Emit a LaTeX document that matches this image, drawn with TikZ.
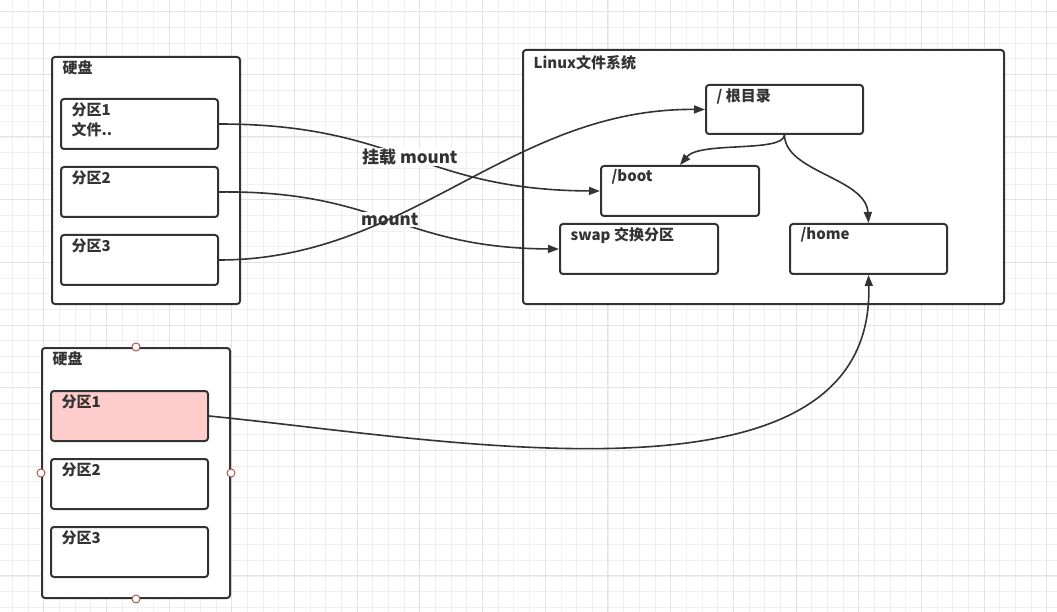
\documentclass[tikz,border=0pt]{standalone}
\usepackage{fontspec}
\setmainfont{Noto Sans CJK SC}
\usetikzlibrary{arrows.meta,positioning}
\definecolor{ink}{HTML}{333333}
\definecolor{pinkf}{HTML}{FFCCCC}
\definecolor{hdl}{HTML}{A05050}
\tikzset{
  minorln/.style={draw=black!6, line width=0.8pt},
  majorln/.style={draw=black!11, line width=1pt},
  frame/.style={draw=ink, line width=2pt, rounded corners=3pt, fill=white, anchor=north west, inner sep=0pt},
  disk/.style={frame, minimum width=188pt, minimum height=248pt},
  part/.style={frame, minimum width=157pt, minimum height=50pt},
  tl/.style={anchor=north west, inner sep=0pt, xshift=11.5pt, yshift=-4.5pt, align=left, text=ink},
  txt/.style={font=\fontsize{15}{20}\selectfont\bfseries},
  fl/.style={-{Triangle[length=11pt,width=8pt]}, line width=1.6pt, draw=ink},
  lbl/.style={font=\fontsize{17}{20}\selectfont\bfseries, fill=white, text=ink, inner sep=1pt},
  handle/.style={circle, draw=hdl, fill=white, line width=0.9pt, minimum size=8pt, inner sep=0pt},
}
\begin{document}
\begin{tikzpicture}[x=1pt, y=-1pt, txt, node distance=16pt]
  \useasboundingbox (0,0) rectangle (1057,612);
  \fill[white] (0,0) rectangle (1057,612);
  % background grid
  \foreach \k in {1,...,68} \draw[minorln] ({-3.4+15.675*\k},0) -- ++(0,612);
  \foreach \k in {1,...,39} \draw[minorln] (0,{-4.07+15.675*\k}) -- ++(1057,0);
  \foreach \k in {0,...,16} \draw[majorln] ({43.6+62.7*\k},0) -- ++(0,612);
  \foreach \k in {0,...,9} \draw[majorln] (0,{11.6+62.7*\k}) -- ++(1057,0);
  % first disk
  \node[disk, minimum height=247pt, label={[tl]north west:硬盘}] (d1) at (51,56) {};
  \node[part, label={[tl]north west:分区1\\文件..}] (p11) at ([shift={(9,42)}]d1.north west) {};
  \node[part, below=of p11.south west, anchor=north west, label={[tl]north west:分区2}] (p12) {};
  \node[part, below=of p12.south west, anchor=north west, label={[tl]north west:分区3}] (p13) {};
  % second disk
  \node[disk, minimum height=250pt, label={[tl]north west:硬盘}] (d2) at (41,347) {};
  \node[part, fill=pinkf, label={[tl]north west:分区1}] (q1) at ([shift={(9,43)}]d2.north west) {};
  \node[part, below=of q1.south west, anchor=north west, label={[tl]north west:分区2}] (q2) {};
  \node[part, below=of q2.south west, anchor=north west, label={[tl]north west:分区3}] (q3) {};
  \foreach \s in {north,south,west,east} \node[handle] (h-\s) at (d2.\s) {};
  % linux file system
  \node[frame, minimum width=481pt, minimum height=254pt, label={[tl, yshift=-1.5pt]north west:Linux文件系统}] (fs) at (522,49) {};
  \node[part, minimum height=49pt, label={[tl]north west:/ 根目录}] (root) at (705,84) {};
  \node[part, minimum width=158pt, label={[tl]north west:/boot}] (boot) at (600,165) {};
  \node[part, minimum width=158pt, label={[tl]north west:swap 交换分区}] (swap) at (559,223) {};
  \node[part, label={[tl]north west:/home}] (home) at (789,223) {};
  % mounts
  \draw[fl] (p11.east) .. controls (400,124) and (420,190) .. (boot.west)
    node[lbl, pos=0.5] (m1) {挂载 mount};
  \draw[fl] (p12.east) .. controls (380,190) and (400,248) .. (swap.west)
    node[lbl, pos=0.5] (m2) {mount};
  \draw[fl] (p13.east) .. controls (410,260) and (510,108) .. (root.west);
  \draw[fl] (root.south) .. controls (783,153) and (700,141) .. (boot.north);
  \draw[fl] (root.south) .. controls (785,172) and (866,178) .. (home.north);
  \draw[fl] (q1.east) .. controls (450,440) and (875,520) .. (home.south);
\end{tikzpicture}
\end{document}
